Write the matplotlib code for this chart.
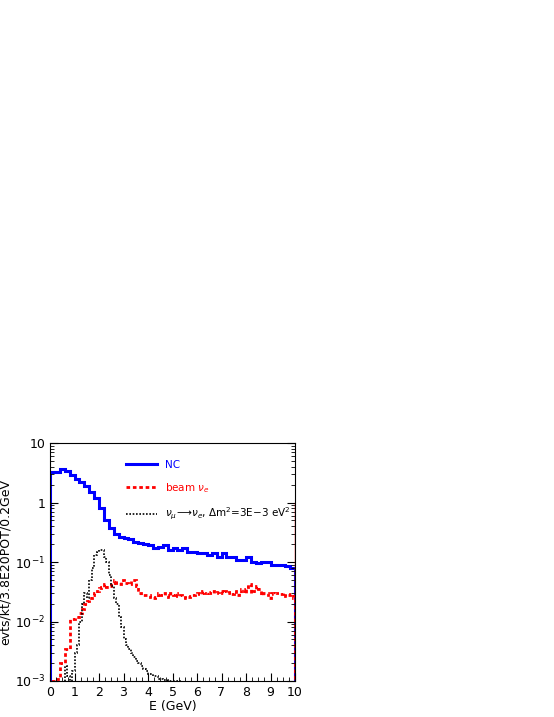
import matplotlib
matplotlib.use("Agg")
import matplotlib.pyplot as plt
import numpy as np

# NC, 0.2 GeV bins
nc = [3.3, 3.2, 3.6, 3.4, 2.9, 2.5, 2.2, 1.9, 1.5, 1.2,
      0.8, 0.5, 0.37, 0.3, 0.26, 0.25, 0.24, 0.22, 0.21, 0.2,
      0.19, 0.17, 0.18, 0.19, 0.16, 0.17, 0.16, 0.17, 0.15, 0.15,
      0.14, 0.14, 0.13, 0.14, 0.12, 0.14, 0.12, 0.12, 0.11, 0.11,
      0.12, 0.10, 0.095, 0.10, 0.10, 0.09, 0.09, 0.09, 0.085, 0.08]
# beam nu_e, 0.1 GeV bins
beam = [0.001, 0.001, 0.0011, 0.0011, 0.002, 0.002, 0.0035, 0.0035, 0.011, 0.011,
        0.012, 0.012, 0.014, 0.016, 0.02, 0.022, 0.025, 0.028, 0.03, 0.033,
        0.036, 0.038, 0.042, 0.038, 0.04, 0.045, 0.05, 0.045, 0.042, 0.05,
        0.045, 0.045, 0.042, 0.05, 0.05, 0.04, 0.03, 0.028, 0.028, 0.028,
        0.028, 0.026, 0.025, 0.026, 0.03, 0.028, 0.03, 0.028, 0.026, 0.03,
        0.028, 0.03, 0.027, 0.028, 0.026, 0.025, 0.026, 0.027, 0.028, 0.029,
        0.03, 0.029, 0.032, 0.03, 0.031, 0.03, 0.032, 0.03, 0.031, 0.033,
        0.03, 0.032, 0.03, 0.031, 0.029, 0.033, 0.028, 0.03, 0.035, 0.03,
        0.038, 0.042, 0.03, 0.032, 0.04, 0.035, 0.028, 0.03, 0.03, 0.025,
        0.03, 0.029, 0.03, 0.03, 0.029, 0.03, 0.027, 0.028, 0.029, 0.025]
# nu_mu -> nu_e signal, 0.1 GeV bins
osc = [0.0001, 0.0001, 0.0001, 0.0001, 0.0001, 0.0001, 0.0018, 0.0012, 0.0001, 0.0015,
       0.003, 0.004, 0.01, 0.02, 0.03, 0.025, 0.05, 0.08, 0.13, 0.15,
       0.16, 0.16, 0.12, 0.10, 0.06, 0.04, 0.025, 0.02, 0.012, 0.008,
       0.005, 0.004, 0.0035, 0.003, 0.0025, 0.0022, 0.002, 0.0018, 0.0016, 0.0015,
       0.0013, 0.0013, 0.0012, 0.0012, 0.0011, 0.0011, 0.00105, 0.00105, 0.001, 0.001,
       0.001, 0.001, 0.001, 0.0009, 0.0008, 0.0007, 0.0006, 0.0005, 0.0004, 0.0003]

fig = plt.figure(figsize=(5.54, 7.17), dpi=100)
ax = fig.add_axes([50 / 554, 1 - 681 / 717, 245 / 554, 238 / 717])

e2 = np.linspace(0, 10, len(nc) + 1)
e1 = np.linspace(0, 10, len(beam) + 1)
eo = np.arange(len(osc) + 1) * 0.1

ax.stairs(nc, e2, color="#0000ff", lw=2.2, label="NC")
ax.stairs(beam, e1, color="#ff0000", lw=2.0, ls=(0, (1.3, 1)), label=r"beam $\nu_e$")
ax.stairs(osc, eo, color="black", lw=1.2, ls=(0, (1, 1)),
          label=r"$\nu_\mu\!\longrightarrow\!\nu_e$, $\Delta$m$^2$=3E$-$3 eV$^2$")
ax.plot([10, 10], [0.001, 1], color="#ff0000", lw=1)

ax.set_yscale("log")
ax.set_xlim(0, 10)
ax.set_ylim(1e-3, 10)
ax.set_xticks(range(11))
ax.set_xticks(np.arange(0, 10.01, 0.25), minor=True)
ax.set_yticks([1e-3, 1e-2, 1e-1, 1, 10])
ax.set_yticklabels(["$10^{-3}$", "$10^{-2}$", "$10^{-1}$", "1", "10"])
ax.tick_params(which="both", direction="in", top=False, right=True, labelsize=9)
ax.tick_params(which="major", length=6)
ax.tick_params(which="minor", length=3)
ax.set_xlabel("E (GeV)", fontsize=9, labelpad=1)
ax.set_ylabel("evts/kt/3.8E20POT/0.2GeV", fontsize=9, labelpad=2)

leg = ax.legend(loc="upper left", bbox_to_anchor=(0.27, 0.97), frameon=False,
                fontsize=7.5, handlelength=3.0, labelspacing=1.1)
for t, c in zip(leg.get_texts(), ["#0000ff", "#ff0000", "black"]):
    t.set_color(c)

fig.savefig("out.png", dpi=100)
